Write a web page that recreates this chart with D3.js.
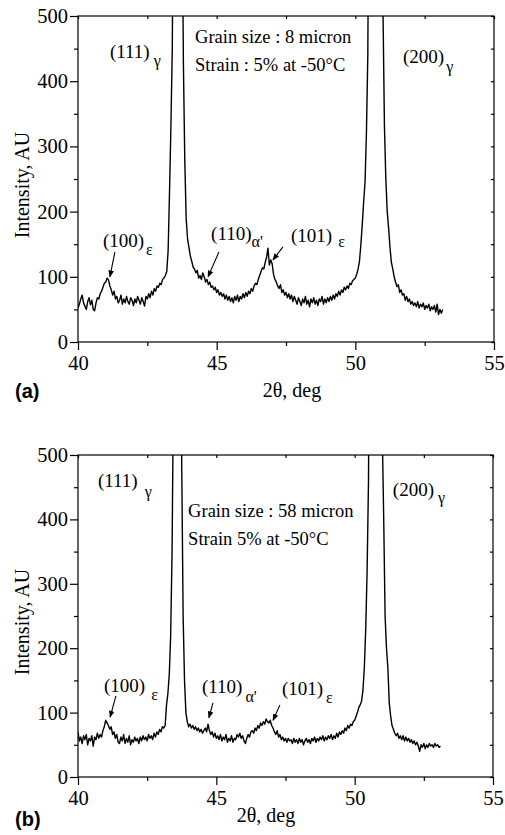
<!DOCTYPE html>
<html>
<head>
<meta charset="utf-8">
<script src="https://cdn.jsdelivr.net/npm/d3@7"></script>
<style>
  body { margin: 0; background: #fff; }
  svg { display: block; }
</style>
</head>
<body>
<svg id="vis" width="505" height="835"></svg>
<script>
// scan grid of the diffractometer (2theta, deg)
var thetaStart = 40.0;
var thetaStep = 0.05;

var xTicks = [40, 45, 50, 55];
var xMinorTicks = [42.5, 47.5, 52.5];
var yTicks = [0, 100, 200, 300, 400, 500];
var yMinorTicks = [50, 150, 250, 350, 450];

// (a) grain size 8 micron, intensity every 0.05 deg from 40.00
var intensityA = [
  52, 58, 66, 72, 60, 55, 50, 62, 68, 57, 64, 50, 48, 60, 68, 66, 74, 78, 84, 90,
  92, 98, 95, 86, 80, 72, 78, 66, 70, 60, 64, 72, 58, 66, 60, 70, 62, 58, 68, 64,
  56, 66, 60, 70, 64, 58, 68, 62, 55, 70, 66, 74, 68, 78, 72, 82, 78, 86, 84, 90,
  88, 96, 98, 102, 108, 140, 230, 330, 450, 800, 1500, 2500, 2600, 2000, 1200, 700, 430, 280, 190, 158,
  145, 132, 124, 115, 112, 106, 110, 98, 102, 96, 106, 100, 92, 96, 88, 92, 84, 86, 80, 84,
  76, 80, 72, 76, 70, 74, 66, 72, 64, 70, 62, 68, 60, 70, 64, 72, 62, 70, 66, 74,
  68, 76, 70, 78, 74, 82, 78, 86, 90, 88, 96, 102, 108, 114, 112, 122, 130, 144, 118, 126,
  120, 104, 96, 92, 86, 82, 88, 76, 80, 72, 76, 68, 74, 66, 72, 62, 70, 64, 58, 68,
  62, 56, 66, 60, 70, 58, 64, 54, 66, 60, 68, 58, 64, 56, 66, 62, 70, 58, 66, 60,
  68, 62, 70, 64, 72, 66, 74, 70, 78, 72, 80, 76, 84, 80, 86, 82, 90, 88, 94, 96,
  98, 104, 112, 124, 150, 180, 215, 245, 320, 440, 800, 1500, 2200, 2500, 2500, 2200, 1600, 1100, 800, 600,
  500, 330, 250, 200, 175, 145, 122, 112, 100, 92, 85, 88, 76, 80, 72, 74, 64, 70, 62, 66,
  58, 62, 56, 60, 54, 62, 52, 58, 54, 60, 50, 56, 52, 58, 48, 54, 50, 56, 46, 58,
  42, 50, 44, 50
];

// (b) grain size 58 micron
var intensityB = [
  70, 56, 62, 52, 64, 58, 66, 50, 60, 56, 64, 48, 62, 58, 68, 60, 66, 62, 72, 78,
  88, 84, 80, 74, 78, 66, 70, 60, 66, 54, 52, 62, 56, 66, 52, 60, 54, 64, 50, 58,
  54, 62, 56, 60, 52, 62, 56, 64, 58, 62, 56, 66, 60, 64, 58, 68, 62, 70, 66, 74,
  70, 78, 76, 80, 112, 130, 160, 220, 350, 600, 1500, 2500, 2500, 1500, 800, 480, 250, 150, 100, 86,
  78, 82, 76, 80, 74, 78, 72, 76, 70, 74, 68, 72, 76, 70, 82, 72, 66, 70, 62, 68,
  60, 64, 58, 66, 56, 62, 58, 66, 54, 60, 56, 64, 54, 60, 58, 66, 62, 68, 60, 64,
  56, 52, 60, 66, 62, 70, 72, 68, 76, 72, 80, 76, 84, 80, 86, 82, 90, 86, 84, 88,
  80, 76, 70, 66, 72, 62, 66, 58, 62, 56, 60, 54, 60, 56, 58, 52, 60, 54, 58, 52,
  60, 54, 58, 50, 56, 60, 54, 58, 52, 60, 56, 62, 54, 60, 56, 62, 58, 64, 56, 62,
  58, 64, 60, 66, 58, 64, 60, 68, 62, 70, 66, 72, 68, 76, 72, 80, 76, 82, 80, 86,
  88, 94, 100, 108, 112, 118, 135, 170, 230, 320, 460, 900, 1800, 2500, 2600, 2400, 1800, 1200, 850, 650,
  530, 400, 250, 200, 170, 115, 95, 80, 74, 68, 64, 68, 60, 64, 58, 64, 56, 62, 56, 60,
  54, 58, 52, 56, 50, 54, 48, 40, 50, 46, 52, 44, 50, 46, 52, 48, 50, 46, 52, 48,
  50, 46, 48
];

// peak labels, placed in data units: [2theta, intensity, main, sub, dx, dy]
var peakLabelsA = [
  [41.15, 436, "(111)", "\u03b3", 4, 8],
  [51.72, 428, "(200)", "\u03b3", 2, 9],
  [40.90, 146, "(100)", "\u03b5", 2, 8],
  [44.80, 156, "(110)", "\u03b1'", 0, 7],
  [47.68, 153, "(101)", "\u03b5", 6, 5]
];
var peakLabelsB = [
  [40.72, 450, "(111)", "\u03b3", 7, 10],
  [51.38, 436, "(200)", "\u03b3", 4, 7],
  [40.94, 132, "(100)", "\u03b5", 6, 8],
  [44.48, 130, "(110)", "\u03b1'", 3, 9],
  [47.37, 127, "(101)", "\u03b5", 3, 8]
];

// arrows: [x1, y1, x2, y2] in data units, head at the second point
var arrowsA = [
  [41.33, 138, 41.15, 100],
  [45.08, 138, 44.69, 100],
  [47.39, 146, 47.03, 126]
];
var arrowsB = [
  [41.37, 126, 41.16, 93],
  [44.88, 115, 44.73, 92],
  [47.30, 112, 47.05, 88]
];

var infoA = ["Grain size : 8 micron", "Strain : 5% at -50\u00b0C"];
var infoB = ["Grain size : 58 micron", "Strain 5% at -50\u00b0C"];

var SERIF = "'Liberation Serif', 'Times New Roman', serif";
var SANS = "'Liberation Sans', Arial, sans-serif";

var display = d3.select("#vis");

// arrowhead
display.append("defs").append("marker")
    .attr("id", "head")
    .attr("viewBox", "0 0 10 10")
    .attr("refX", 9)
    .attr("refY", 5)
    .attr("markerWidth", 7)
    .attr("markerHeight", 7)
    .attr("markerUnits", "userSpaceOnUse")
    .attr("orient", "auto")
    .append("path")
    .attr("d", "M0,1 L10,5 L0,9 Z")
    .attr("fill", "#000");

drawPanel({
    id: "a", top: 16, bottom: 342, left: 78, right: 494,
    values: intensityA, labels: peakLabelsA, arrows: arrowsA, info: infoA,
    infoAt: [44.22, 459, 416],
    titleX: 292, titleY: 397, tagY: 398
});

drawPanel({
    id: "b", top: 455, bottom: 777, left: 78, right: 493,
    values: intensityB, labels: peakLabelsB, arrows: arrowsB, info: infoB,
    infoAt: [43.98, 404, 360],
    titleX: 266, titleY: 822, tagY: 826
});

function drawPanel(p) {
    var x = d3.scaleLinear().domain([40, 55]).range([p.left, p.right]);
    var y = d3.scaleLinear().domain([0, 500]).range([p.bottom, p.top]);

    var data = p.values.map(function (v, i) {
        return {t: thetaStart + i * thetaStep, v: v};
    });

    var g = display.append("g").attr("class", "panel-" + p.id);

    g.append("clipPath").attr("id", "clip-" + p.id)
        .append("rect")
        .attr("x", p.left).attr("y", p.top)
        .attr("width", p.right - p.left).attr("height", p.bottom - p.top);

    // the scan
    var line = d3.line()
        .x(function (d) { return x(d.t); })
        .y(function (d) { return y(d.v); });

    g.append("path")
        .datum(data)
        .attr("clip-path", "url(#clip-" + p.id + ")")
        .attr("fill", "none")
        .attr("stroke", "#000")
        .attr("stroke-width", 1.4)
        .attr("stroke-linejoin", "round")
        .attr("d", line);

    // frame
    g.append("rect")
        .attr("x", p.left).attr("y", p.top)
        .attr("width", p.right - p.left).attr("height", p.bottom - p.top)
        .attr("fill", "none").attr("stroke", "#000").attr("stroke-width", 1.2);

    // axes
    var bottomAxis = d3.axisBottom(x).tickValues(xTicks).tickSize(8).tickPadding(5)
        .tickFormat(d3.format("d"));
    var bottomMinor = d3.axisBottom(x).tickValues(xMinorTicks).tickSize(4).tickFormat("");
    var leftAxis = d3.axisLeft(y).tickValues(yTicks).tickSize(8).tickPadding(2)
        .tickFormat(d3.format("d"));
    var leftMinor = d3.axisLeft(y).tickValues(yMinorTicks).tickSize(4).tickFormat("");
    var topAxis = d3.axisBottom(x).tickValues(xTicks.concat(xMinorTicks)).tickSize(3).tickFormat("");
    var rightAxis = d3.axisLeft(y).tickValues(yTicks.concat(yMinorTicks)).tickSize(3).tickFormat("");

    function style(sel) {
        sel.select(".domain").remove();
        sel.selectAll("line").attr("stroke", "#000").attr("stroke-width", 1.2);
        sel.selectAll("text")
            .attr("fill", "#000")
            .style("font-family", SERIF)
            .style("font-size", "20.5px");
    }

    g.append("g").attr("transform", "translate(0," + p.bottom + ")").call(bottomAxis).call(style);
    g.append("g").attr("transform", "translate(0," + p.bottom + ")").call(bottomMinor).call(style);
    g.append("g").attr("transform", "translate(" + p.left + ",0)").call(leftAxis).call(style);
    g.append("g").attr("transform", "translate(" + p.left + ",0)").call(leftMinor).call(style);
    g.append("g").attr("transform", "translate(0," + p.top + ")").call(topAxis).call(style);
    g.append("g").attr("transform", "translate(" + p.right + ",0)").call(rightAxis).call(style);

    // axis titles
    g.append("text")
        .attr("transform", "translate(29," + ((p.top + p.bottom) / 2 + 6) + ") rotate(-90)")
        .attr("text-anchor", "middle")
        .style("font-family", SERIF)
        .style("font-size", "20px")
        .text("Intensity, AU");

    g.append("text")
        .attr("x", p.titleX)
        .attr("y", p.titleY)
        .attr("text-anchor", "middle")
        .style("font-family", SERIF)
        .style("font-size", "20px")
        .text("2\u03b8, deg");

    g.append("text")
        .attr("x", 15)
        .attr("y", p.tagY)
        .style("font-family", SANS)
        .style("font-weight", "bold")
        .style("font-size", "20px")
        .text("(" + p.id + ")");

    // sample description
    g.append("text")
        .attr("x", x(p.infoAt[0]))
        .attr("y", y(p.infoAt[1]))
        .style("font-family", SERIF)
        .style("font-size", "18.5px")
        .text(p.info[0]);
    g.append("text")
        .attr("x", x(p.infoAt[0]))
        .attr("y", y(p.infoAt[2]))
        .style("font-family", SERIF)
        .style("font-size", "18.5px")
        .text(p.info[1]);

    // peak labels
    var lab = g.selectAll("text.peak")
        .data(p.labels)
        .enter()
        .append("text")
        .attr("class", "peak")
        .attr("x", function (d) { return x(d[0]); })
        .attr("y", function (d) { return y(d[1]); })
        .style("font-family", SERIF)
        .style("font-size", "19px");
    lab.append("tspan").text(function (d) { return d[2]; });
    lab.append("tspan")
        .attr("dx", function (d) { return d[4]; })
        .attr("dy", function (d) { return d[5]; })
        .style("font-size", "16px")
        .text(function (d) { return d[3]; });

    // arrows
    g.selectAll("line.arrow")
        .data(p.arrows)
        .enter()
        .append("line")
        .attr("class", "arrow")
        .attr("x1", function (d) { return x(d[0]); })
        .attr("y1", function (d) { return y(d[1]); })
        .attr("x2", function (d) { return x(d[2]); })
        .attr("y2", function (d) { return y(d[3]); })
        .attr("stroke", "#000")
        .attr("stroke-width", 1.1)
        .attr("marker-end", "url(#head)");
}
</script>
</body>
</html>
